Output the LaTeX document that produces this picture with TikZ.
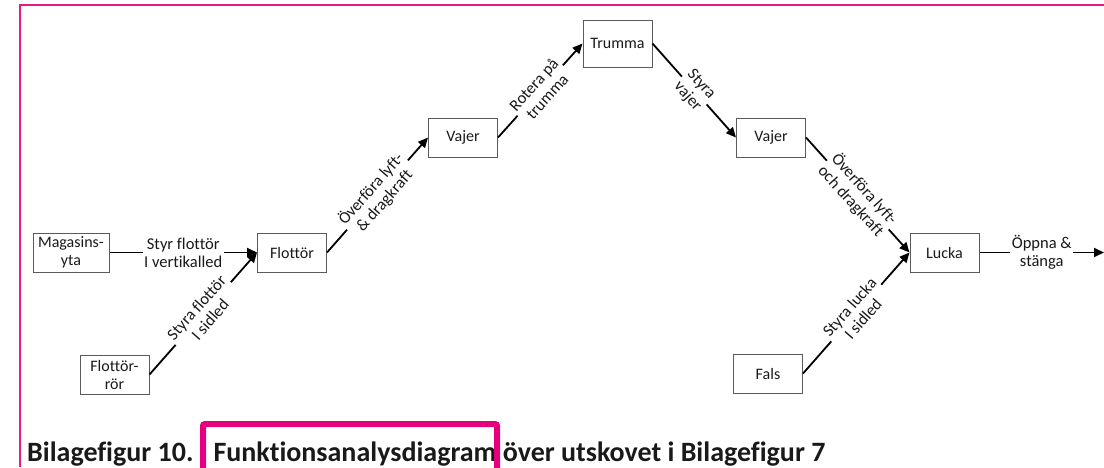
\documentclass[tikz,border=0pt]{standalone}
\usepackage{fontspec}
\setmainfont{Carlito}[Ligatures=NoCommon]
\usetikzlibrary{arrows.meta}
\definecolor{framepink}{RGB}{232,24,135}
\definecolor{hlpink}{RGB}{228,0,124}
\definecolor{txt}{RGB}{25,25,25}
\definecolor{boxline}{RGB}{90,90,90}
\begin{document}
\begin{tikzpicture}[x=1pt,y=-1pt,
  box/.style={draw=boxline, line width=1pt, rectangle, minimum width=69pt, minimum height=39pt,
    inner sep=1pt, align=center, text=txt, font=\fontsize{16}{18}\selectfont},
  conn/.style={line width=1.8pt, -{Triangle[length=10pt,width=9pt]}},
  lab/.style={midway, sloped, fill=white, inner sep=1.5pt, align=center, text=txt,
    font=\fontsize{16.5}{18}\selectfont}]
\useasboundingbox (0,0) rectangle (1104,467);
% frame
\draw[framepink, line width=2.2pt] (20,467) -- (20,5) -- (1104,5);
% nodes
\node[box, minimum width=76pt] (mag) at (71,252.5) {Magasins-\\yta};
\node[box] (flo) at (292,252.5) {Flottör};
\node[box] (ror) at (114.5,374.5) {Flottör-\\rör};
\node[box] (vaj1) at (463,137.5) {Vajer};
\node[box, minimum height=47pt] (trum) at (617.5,43.5) {Trumma};
\node[box] (vaj2) at (771,137.5) {Vajer};
\node[box] (luc) at (944.5,252.5) {Lucka};
\node[box] (fals) at (768,373.5) {Fals};
\coordinate (out) at (1104,252.5);
% connectors
\draw[conn] (mag.east) -- (flo.west) node[lab] {Styr flottör\\I vertikalled};
\draw[conn] (ror.east) -- (flo.west) node[lab] {Styra flottör\\I sidled};
\draw[conn] (flo.east) -- (vaj1.west) node[lab] {Överföra lyft-\\\& dragkraft};
\draw[conn] (vaj1.east) -- (trum.west) node[lab] {Rotera på\\trumma};
\draw[conn] (trum.east) -- (vaj2.west) node[lab] {Styra\\vajer};
\draw[conn] (vaj2.east) -- (luc.west) node[lab] {Överföra lyft-\\och dragkraft};
\draw[conn] (fals.east) -- (luc.west) node[lab] {Styra lucka\\I sidled};
\draw[conn] (luc.east) -- (out) node[lab] {Öppna \&\\stänga};
% caption
\node[anchor=base west, inner sep=0pt, text=txt, font=\fontsize{28}{30}\selectfont\bfseries] (cap) at (27,461)
  {Bilagefigur 10.\hspace{20pt}Funktionsanalysdiagram över utskovet i Bilagefigur 7};
\draw[hlpink, line width=6pt, rounded corners=2pt] (203,470) -- (203,424) -- (497,424) -- (497,470);
\end{tikzpicture}
\end{document}
